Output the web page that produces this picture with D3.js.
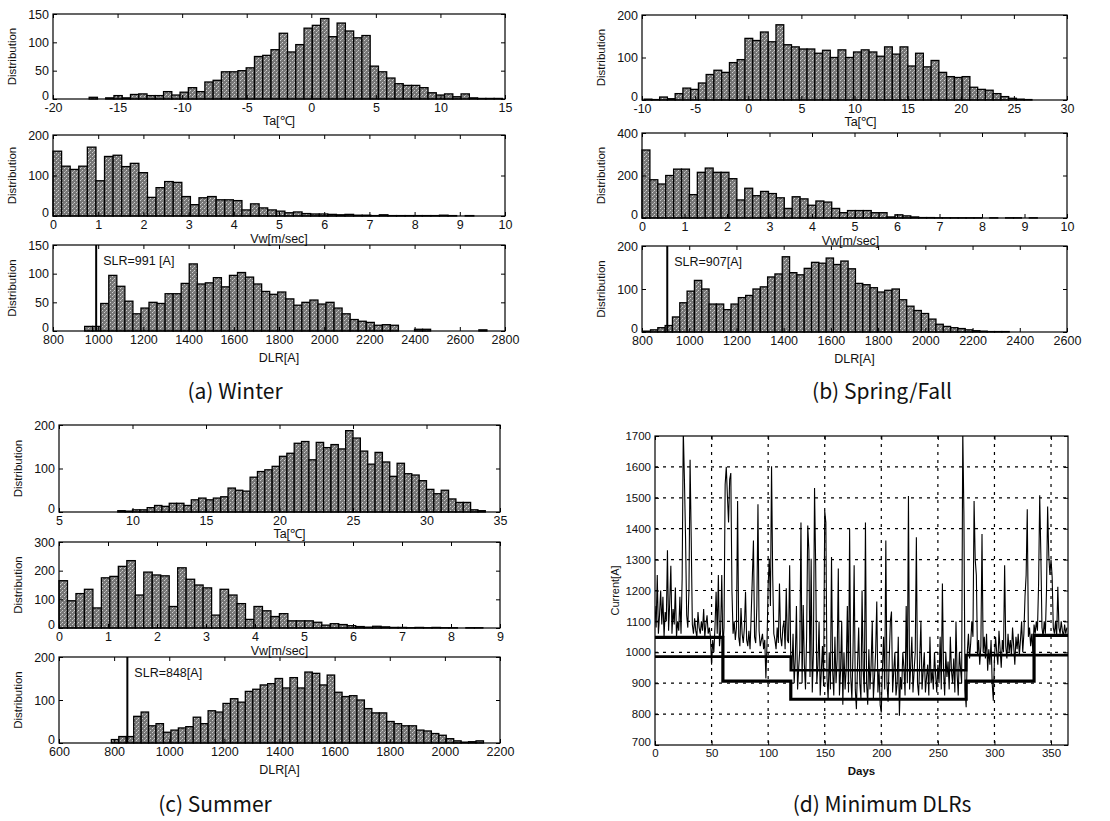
<!DOCTYPE html>
<html>
<head>
<meta charset="utf-8">
<script src="https://cdn.jsdelivr.net/npm/d3@7"></script>
<style>
  body { margin: 0; background: #fff; }
  text { font-family: "Liberation Sans", Arial, sans-serif; fill: #111; }
  .tick line { stroke: #000; }
  .title { font-family: "Noto Sans CJK KR", "DejaVu Sans", sans-serif; font-size: 21px; }
</style>
</head>
<body>
<div id="chart"></div>
<script>
// Histogram counts (bin start, bin width)
var winterTaBins = [-17.2, 0.64];
var winterTa = [3,0,2,6,2,8,9,6,6,13,7,12,20,13,30,33,48,48,50,55,75,77,87,116,83,96,125,130,142,110,134,120,108,112,58,48,37,27,24,24,20,11,7,9,4,9,2,1,1,1];
var winterVwBins = [0, 0.19];
var winterVw = [160,123,115,123,170,87,147,150,122,130,107,46,70,85,83,48,28,45,48,40,40,38,15,30,20,15,12,8,10,6,5,5,4,3,4,2,2,1,3,1,1,1,1,1,1,2,1,0,1,0];
var winterDlrBins = [940, 35.6];
var winterDlr = [8,8,48,97,78,52,30,40,50,48,65,65,83,117,82,84,93,77,97,102,94,82,69,64,68,56,45,50,54,47,50,40,30,20,17,15,10,11,10,0,0,3,3,0,0,0,0,0,0,2];

var springTaBins = [-9.8, 0.73];
var springTa = [2,1,7,3,15,28,25,40,60,70,65,88,95,145,140,160,137,177,130,125,120,120,110,117,100,118,100,113,118,113,103,125,108,125,80,110,78,93,65,55,53,55,30,25,23,15,8,4,2,1];
var springVwBins = [0, 0.186];
var springVw = [320,180,160,200,230,230,110,215,235,215,215,185,85,140,105,125,115,95,45,100,90,60,80,75,45,25,35,35,35,25,25,5,15,10,5,2,2,1,1,1,1,1,1,0,1,0,1,1,0,1];
var springDlrBins = [805, 31];
var springDlr = [2,5,10,15,35,68,95,120,100,65,65,52,65,80,85,100,105,128,135,175,138,133,148,162,160,172,157,165,147,113,110,103,93,97,100,75,60,50,43,30,18,13,10,8,5,3,2,1,1,1];

var summerTaBins = [9.0, 0.5];
var summerTa = [3,2,5,5,10,15,13,20,20,15,28,32,28,32,35,55,50,48,80,93,97,105,128,135,158,162,120,160,148,155,145,187,170,140,110,137,115,82,112,88,85,72,52,42,50,30,22,22,5,3];
var summerVwBins = [0, 0.173];
var summerVw = [165,95,120,135,70,175,180,215,235,115,195,185,182,75,210,170,150,140,45,135,115,85,30,75,60,40,50,25,25,25,20,10,15,12,8,5,3,6,4,2,2,1,2,1,2,1,1,0,1,1];
var summerDlrBins = [790, 27];
var summerDlr = [8,15,15,62,72,40,45,25,30,35,38,60,45,75,72,92,103,95,120,125,135,138,150,128,152,128,165,162,135,158,118,108,110,100,80,70,70,50,45,40,40,30,28,22,18,10,5,2,3,5];

// Season ratings [A]
var slrValues = [991, 907, 848];

// Daily DLR through the year (days 0..364)
var dailyDlr = [
  1150,1080,1250,1060,1120,1200,1090,1180,1050,1130,
  1100,1330,1070,1160,1280,1060,1140,1090,1210,1050,
  1100,1070,1180,1060,1240,1720,1560,1370,1120,1080,
  1200,1623,1370,1090,1060,1110,1070,1050,1130,1080,
  1060,1100,1070,1140,1050,1090,1120,1060,1080,1050,
  960,1040,1000,1080,1196,1060,1250,1020,1070,1250,
  1010,1080,1543,1600,1505,1420,1560,1580,1200,1060,
  1100,1040,1080,1490,1050,1020,1143,1060,1030,1080,
  1196,1040,1020,1070,1010,1120,1240,1362,1050,1030,
  1150,1479,1070,1020,1040,1060,1010,1040,915,1030,
  1218,1303,1150,1602,1250,1060,1040,1010,1080,1030,
  1223,1050,1020,1080,1100,1010,1207,1040,1030,1282,
  970,940,1060,900,980,1150,880,950,1010,1420,
  900,1153,960,880,1050,1410,1330,920,1303,870,
  1000,1532,1282,900,960,1100,860,940,1020,890,
  1458,1420,920,850,1000,880,1308,940,860,1050,
  900,980,1271,860,940,1100,830,1000,880,950,
  1150,870,1399,920,850,1000,1282,880,816,960,
  1080,900,850,1200,940,870,1420,900,830,1010,
  880,960,1100,850,920,1000,1164,870,940,830,
  805,950,1050,880,1362,900,840,980,1100,1132,
  870,940,1000,860,900,1050,795,920,880,1000,
  950,860,1150,900,1506,880,960,1050,870,940,
  1000,1372,900,860,980,1100,880,940,1000,870,
  920,960,860,1050,900,940,880,1000,930,870,
  960,900,1050,880,1223,940,860,1000,920,970,
  880,1050,940,900,980,870,1100,930,860,1000,
  950,900,1720,1447,880,822,1000,1060,980,1030,
  1100,1050,1490,1300,1250,990,1040,960,1020,1383,
  1000,1050,980,1060,940,1010,960,1040,900,843,
  980,1050,1000,960,1070,1010,950,1040,1000,1282,
  1020,980,1060,1000,1040,990,1080,1020,960,1050,
  1010,1060,990,1040,1100,1000,1060,1180,1250,1463,
  1050,1080,1020,1060,1000,1090,1060,1100,1070,1220,
  1508,1319,1080,1050,1100,1060,1200,1472,1314,1250,
  1300,1244,1080,1060,1100,1050,1212,1080,1060,1100,
  1070,1050,1090,1060,1080
];
// Minimum DLR steps and rating steps
var minStepDays = [0, 60, 120, 275, 335, 365];
var minStepValues = [1048, 907, 848, 907, 1055, 1055];
var ratingStepDays = [0, 120, 275, 365];
var ratingStepValues = [986, 942, 991, 991];

// Tick labels
var taTicksA = d3.range(-20, 16, 5), vwTicksA = d3.range(0, 11, 1), dlrTicksA = d3.range(800, 2801, 200);
var taTicksB = d3.range(-10, 31, 5), vwTicksB = d3.range(0, 11, 1), dlrTicksB = d3.range(800, 2601, 200);
var taTicksC = d3.range(5, 36, 5), vwTicksC = d3.range(0, 10, 1), dlrTicksC = d3.range(600, 2201, 200);
var dayTicks = d3.range(0, 351, 50), currentTicks = d3.range(700, 1701, 100);

var svgWidth = 1110;
var svgHeight = 821;

var svg = d3.select("#chart")
  .append("svg")
  .attr("width", svgWidth)
  .attr("height", svgHeight);

// halftone fill for the bars
var pat = svg.append("defs").append("pattern")
  .attr("id", "dots")
  .attr("width", 4).attr("height", 4)
  .attr("patternUnits", "userSpaceOnUse");
pat.append("rect").attr("width", 4).attr("height", 4).attr("fill", "#767676");
pat.append("rect").attr("x", 0).attr("y", 0).attr("width", 1).attr("height", 1).attr("fill", "#d0d0d0");
pat.append("rect").attr("x", 2).attr("y", 2).attr("width", 1).attr("height", 1).attr("fill", "#d0d0d0");
pat.append("rect").attr("x", 1).attr("y", 3).attr("width", 1).attr("height", 1).attr("fill", "#a8a8a8");

var plain = function(d) { return String(d); };

function box(g, left, right, top, bottom) {
  g.append("rect")
    .attr("x", left).attr("y", top)
    .attr("width", right - left).attr("height", bottom - top)
    .attr("fill", "none").attr("stroke", "#000").attr("stroke-width", 1.2);
}

function frameAxes(g, x, y, left, right, top, bottom, xTicks, yTicks, fontSize) {
  var bottomAxis = d3.axisBottom(x).tickValues(xTicks).tickFormat(plain).tickSizeInner(-4).tickSizeOuter(0).tickPadding(4);
  var leftAxis = d3.axisLeft(y).tickValues(yTicks).tickFormat(plain).tickSizeInner(-4).tickSizeOuter(0).tickPadding(4);
  var topAxis = d3.axisTop(x).tickValues(xTicks).tickSizeInner(-4).tickSizeOuter(0).tickFormat("");
  var rightAxis = d3.axisRight(y).tickValues(yTicks).tickSizeInner(-4).tickSizeOuter(0).tickFormat("");

  g.append("g").attr("transform", `translate(0, ${bottom})`).call(bottomAxis);
  var l = g.append("g").attr("transform", `translate(${left}, 0)`).call(leftAxis);
  g.append("g").attr("transform", `translate(0, ${top})`).call(topAxis);
  g.append("g").attr("transform", `translate(${right}, 0)`).call(rightAxis);
  g.selectAll(".domain").remove();
  g.selectAll(".tick text").attr("font-size", fontSize).attr("font-family", "Liberation Sans, Arial, sans-serif");
  // lowest y label sits just above the x labels, as in the original
  l.selectAll(".tick text").filter(function(d) { return d === yTicks[0]; }).attr("dy", "0.02em");
}

function drawHist(spec) {
  var g = svg.append("g");
  var x = d3.scaleLinear().domain(spec.xDomain).range([spec.left, spec.right]);
  var y = d3.scaleLinear().domain(spec.yDomain).range([spec.bottom, spec.top]);
  var bins = spec.counts.map(function(c, i) {
    return { x0: spec.bins[0] + i * spec.bins[1], x1: spec.bins[0] + (i + 1) * spec.bins[1], n: c };
  });

  g.selectAll("rect.bar")
    .data(bins)
    .enter()
    .append("rect")
    .attr("class", "bar")
    .attr("x", function(d) { return x(d.x0); })
    .attr("width", function(d) { return x(d.x1) - x(d.x0); })
    .attr("y", function(d) { return y(d.n); })
    .attr("height", function(d) { return spec.bottom - y(d.n); })
    .attr("fill", "url(#dots)")
    .attr("stroke", "#000")
    .attr("stroke-width", 1.3);

  if (spec.slr) {
    g.append("line")
      .attr("x1", x(spec.slr)).attr("x2", x(spec.slr))
      .attr("y1", spec.bottom).attr("y2", spec.top)
      .attr("stroke", "#000").attr("stroke-width", 2);
    g.append("text")
      .attr("x", x(spec.slr) + 7)
      .attr("y", spec.top + 20)
      .attr("font-size", 12.5)
      .text(spec.slrLabel);
  }

  box(g, spec.left, spec.right, spec.top, spec.bottom);
  frameAxes(g, x, y, spec.left, spec.right, spec.top, spec.bottom, spec.xTicks, spec.yTicks, 12.5);

  g.append("text")
    .attr("transform", `translate(${spec.left - 37}, ${(spec.top + spec.bottom) / 2}) rotate(-90)`)
    .attr("text-anchor", "middle")
    .attr("font-size", 11.5)
    .text("Distribution");

  g.append("text")
    .attr("x", (spec.left + spec.right) / 2 + spec.labelShift)
    .attr("y", spec.bottom + spec.labelGap)
    .attr("text-anchor", "middle")
    .attr("font-size", 12.5)
    .text(spec.xLabel);
}

var cols = [
  { left: 53, right: 505 },
  { left: 642, right: 1067 },
  { left: 59, right: 500 }
];
var rowsA = [[14, 99], [135, 216], [245, 331]];
var rowsB = [[15, 100], [133, 218], [246, 332]];
var rowsC = [[425, 512], [542, 628], [657, 743]];

var panels = [
  // (a) Winter
  { col: 0, row: rowsA[0], xDomain: [-20, 15], yDomain: [0, 150], xTicks: taTicksA, yTicks: [0, 50, 100, 150], bins: winterTaBins, counts: winterTa, xLabel: "Ta[℃]", labelGap: 26, labelShift: 0 },
  { col: 0, row: rowsA[1], xDomain: [0, 10], yDomain: [0, 200], xTicks: vwTicksA, yTicks: [0, 100, 200], bins: winterVwBins, counts: winterVw, xLabel: "Vw[m/sec]", labelGap: 27, labelShift: 0 },
  { col: 0, row: rowsA[2], xDomain: [800, 2800], yDomain: [0, 150], xTicks: dlrTicksA, yTicks: [0, 50, 100, 150], bins: winterDlrBins, counts: winterDlr, xLabel: "DLR[A]", labelGap: 31, labelShift: 0, slr: slrValues[0], slrLabel: "SLR=991 [A]" },
  // (b) Spring/Fall
  { col: 1, row: rowsB[0], xDomain: [-10, 30], yDomain: [0, 200], xTicks: taTicksB, yTicks: [0, 100, 200], bins: springTaBins, counts: springTa, xLabel: "Ta[℃]", labelGap: 26, labelShift: 6 },
  { col: 1, row: rowsB[1], xDomain: [0, 10], yDomain: [0, 400], xTicks: vwTicksB, yTicks: [0, 200, 400], bins: springVwBins, counts: springVw, xLabel: "Vw[m/sec]", labelGap: 27, labelShift: -4 },
  { col: 1, row: rowsB[2], xDomain: [800, 2600], yDomain: [0, 200], xTicks: dlrTicksB, yTicks: [0, 100, 200], bins: springDlrBins, counts: springDlr, xLabel: "DLR[A]", labelGap: 31, labelShift: 0, slr: slrValues[1], slrLabel: "SLR=907[A]" },
  // (c) Summer
  { col: 2, row: rowsC[0], xDomain: [5, 35], yDomain: [0, 200], xTicks: taTicksC, yTicks: [0, 100, 200], bins: summerTaBins, counts: summerTa, xLabel: "Ta[℃]", labelGap: 26, labelShift: 10 },
  { col: 2, row: rowsC[1], xDomain: [0, 9], yDomain: [0, 300], xTicks: vwTicksC, yTicks: [0, 100, 200, 300], bins: summerVwBins, counts: summerVw, xLabel: "Vw[m/sec]", labelGap: 27, labelShift: 0 },
  { col: 2, row: rowsC[2], xDomain: [600, 2200], yDomain: [0, 200], xTicks: dlrTicksC, yTicks: [0, 100, 200], bins: summerDlrBins, counts: summerDlr, xLabel: "DLR[A]", labelGap: 31, labelShift: 0, slr: slrValues[2], slrLabel: "SLR=848[A]" }
];

panels.forEach(function(p) {
  p.left = cols[p.col].left;
  p.right = cols[p.col].right;
  p.top = p.row[0];
  p.bottom = p.row[1];
  drawHist(p);
});

// (d) Minimum DLRs
var dLeft = 655, dRight = 1068, dTop = 436, dBottom = 745;
var dg = svg.append("g");
var xDay = d3.scaleLinear().domain([0, 365]).range([dLeft, dRight]);
var yCur = d3.scaleLinear().domain([700, 1700]).range([dBottom, dTop]);

// dashed grid
dg.selectAll("line.vgrid")
  .data(dayTicks.filter(function(d) { return d > 0; }))
  .enter().append("line")
  .attr("x1", function(d) { return xDay(d); }).attr("x2", function(d) { return xDay(d); })
  .attr("y1", dTop).attr("y2", dBottom)
  .attr("stroke", "#000").attr("stroke-width", 1.2).attr("stroke-dasharray", "3,5");
dg.selectAll("line.hgrid")
  .data(currentTicks.filter(function(d) { return d > 700 && d < 1700; }))
  .enter().append("line")
  .attr("x1", dLeft).attr("x2", dRight)
  .attr("y1", function(d) { return yCur(d); }).attr("y2", function(d) { return yCur(d); })
  .attr("stroke", "#000").attr("stroke-width", 1.2).attr("stroke-dasharray", "3,5");

dg.append("clipPath").attr("id", "dclip")
  .append("rect").attr("x", dLeft).attr("y", dTop).attr("width", dRight - dLeft).attr("height", dBottom - dTop);

var dailyLine = d3.line()
  .x(function(d, i) { return xDay(i); })
  .y(function(d) { return yCur(d); });

dg.append("path")
  .datum(dailyDlr)
  .attr("clip-path", "url(#dclip)")
  .attr("d", dailyLine)
  .attr("fill", "none")
  .attr("stroke", "#000")
  .attr("stroke-width", 1.1);

var stepLine = d3.line()
  .x(function(d) { return xDay(d[0]); })
  .y(function(d) { return yCur(d[1]); })
  .curve(d3.curveStepAfter);

dg.append("path")
  .datum(d3.zip(ratingStepDays, ratingStepValues))
  .attr("d", stepLine)
  .attr("fill", "none").attr("stroke", "#000").attr("stroke-width", 2.6);

dg.append("path")
  .datum(d3.zip(minStepDays, minStepValues))
  .attr("d", stepLine)
  .attr("fill", "none").attr("stroke", "#000").attr("stroke-width", 3.2);

box(dg, dLeft, dRight, dTop, dBottom);
frameAxes(dg, xDay, yCur, dLeft, dRight, dTop, dBottom, dayTicks, currentTicks, 11.5);

dg.append("text")
  .attr("transform", `translate(${dLeft - 36}, ${(dTop + dBottom) / 2}) rotate(-90)`)
  .attr("text-anchor", "middle")
  .attr("font-size", 11)
  .text("Current[A]");

dg.append("text")
  .attr("x", (dLeft + dRight) / 2)
  .attr("y", dBottom + 30)
  .attr("text-anchor", "middle")
  .attr("font-size", 11.5)
  .attr("font-weight", "bold")
  .text("Days");

// Panel captions
var captions = ["(a)  Winter", "(b)  Spring/Fall", "(c)  Summer", "(d)  Minimum DLRs"];
var captionPos = [[235, 399], [882, 399], [215, 812], [882, 812]];
svg.selectAll("text.title")
  .data(captions)
  .enter().append("text")
  .attr("class", "title")
  .attr("x", function(d, i) { return captionPos[i][0]; })
  .attr("y", function(d, i) { return captionPos[i][1]; })
  .attr("text-anchor", "middle")
  .text(function(d) { return d; });
</script>
</body>
</html>
